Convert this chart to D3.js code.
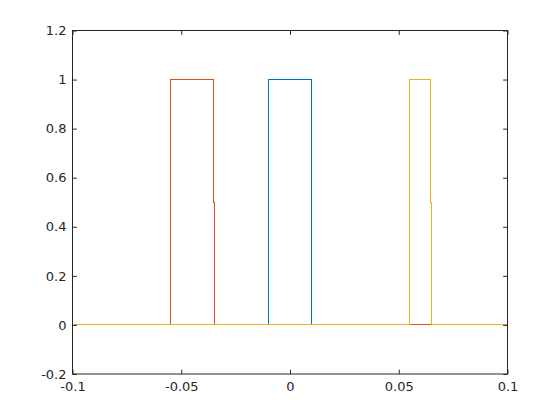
<!DOCTYPE html>
<html><head><meta charset="utf-8">
<script src="https://cdn.jsdelivr.net/npm/d3@7"></script>
<style>html,body{margin:0;padding:0;background:#fff;}</style>
</head><body>
<svg id="c" width="560" height="420"></svg>
<script>
// Data: piecewise breakpoints of each pulse signal
const blueX   = [-0.1, -0.01, -0.01, 0.01, 0.01, 0.1];
const blueY   = [0, 0, 1, 1, 0, 0];
const orangeX = [-0.1, -0.055, -0.055, -0.0353, -0.0353, -0.0348, -0.0348, 0.1];
const orangeY = [0, 0, 1, 1, 0.5, 0.5, 0, 0];
const yellowX = [-0.1, 0.055, 0.055, 0.0648, 0.0648, 0.0652, 0.0652, 0.1];
const yellowY = [0, 0, 1, 1, 0.5, 0.5, 0, 0];
const xTicks = [-0.1, -0.05, 0, 0.05, 0.1];
const xTickLabels = ["-0.1", "-0.05", "0", "0.05", "0.1"];
const yTicks = [-0.2, 0, 0.2, 0.4, 0.6, 0.8, 1, 1.2];
const yTickLabels = ["-0.2", "0", "0.2", "0.4", "0.6", "0.8", "1", "1.2"];

const L = 72.5, T = 30.5, W = 435, H = 343.5;
const svg = d3.select("#c");
const x = d3.scaleLinear().domain([-0.1, 0.1]).range([L, L + W]);
const y = d3.scaleLinear().domain([-0.2, 1.2]).range([T + H, T]);
const ax = "#262626";
const tl = 4.35;

svg.append("rect").attr("x", L).attr("y", T).attr("width", W).attr("height", H).attr("fill", "#fff");

const series = [
  {xs: blueX, ys: blueY, c: "#0072BD"},
  {xs: orangeX, ys: orangeY, c: "#D95319"},
  {xs: yellowX, ys: yellowY, c: "#EDB120"}
];
const line = d3.line().x(d => x(d[0])).y(d => y(d[1]));
series.forEach(s => {
  svg.append("path").datum(s.xs.map((v, i) => [v, s.ys[i]]))
    .attr("d", line).attr("fill", "none").attr("stroke", s.c).attr("stroke-width", 1)
    .attr("shape-rendering", "crispEdges");
});

const font = "DejaVu Sans, sans-serif";
const gB = svg.append("g").attr("transform", `translate(0,${T + H})`)
  .call(d3.axisBottom(x).tickValues(xTicks).tickSizeInner(-tl).tickSizeOuter(0).tickPadding(8)
    .tickFormat((d, i) => xTickLabels[i]));
const gT = svg.append("g").attr("transform", `translate(0,${T})`)
  .call(d3.axisTop(x).tickValues(xTicks).tickSizeInner(-tl).tickSizeOuter(0).tickFormat(""));
const gL = svg.append("g").attr("transform", `translate(${L},0)`)
  .call(d3.axisLeft(y).tickValues(yTicks).tickSizeInner(-tl).tickSizeOuter(0).tickPadding(6)
    .tickFormat((d, i) => yTickLabels[i]));
const gR = svg.append("g").attr("transform", `translate(${L + W},0)`)
  .call(d3.axisRight(y).tickValues(yTicks).tickSizeInner(-tl).tickSizeOuter(0).tickFormat(""));
[gB, gT, gL, gR].forEach(g => {
  g.select(".domain").remove();
  g.selectAll("line").attr("stroke", ax).attr("stroke-width", 1);
  g.selectAll("text").attr("fill", ax).style("font-family", font).style("font-size", "13px");
});
gB.selectAll("text").attr("dy", "0.71em");
svg.append("rect").attr("x", L).attr("y", T).attr("width", W).attr("height", H)
  .attr("fill", "none").attr("stroke", ax).attr("stroke-width", 1);
</script>
</body></html>
